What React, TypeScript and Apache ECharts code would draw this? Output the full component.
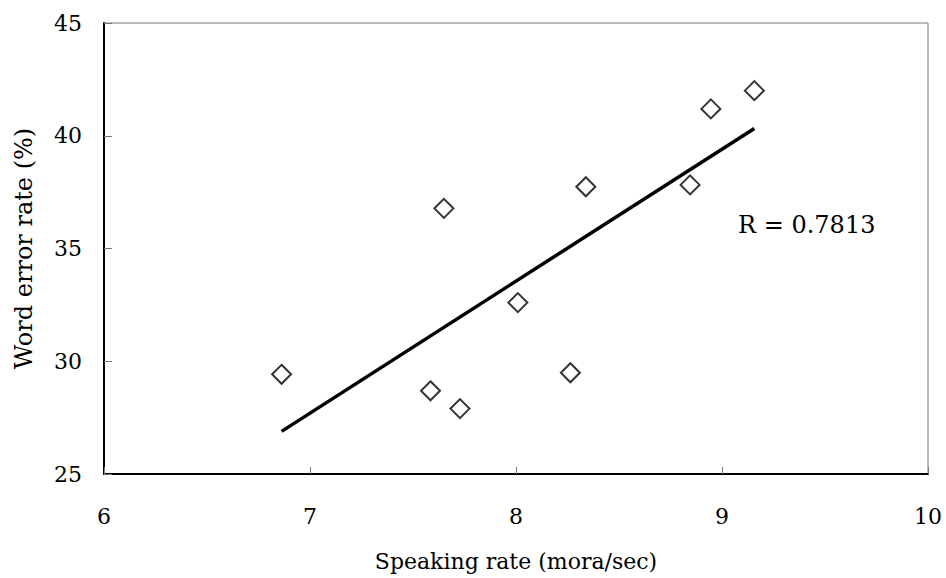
import React, { useEffect, useRef } from "react";
import * as echarts from "echarts";

const speakingRate: number[] = [6.862, 7.65, 7.585, 7.728, 8.009, 8.264, 8.339, 8.845, 8.946, 9.157];
const wordErrorRate: number[] = [29.42, 36.78, 28.69, 27.9, 32.6, 29.49, 37.74, 37.82, 41.19, 42.0];
const xTicks: number[] = [6, 7, 8, 9, 10];
const yTicks: number[] = [25, 30, 35, 40, 45];
const xTitle = "Speaking rate (mora/sec)";
const yTitle = "Word error rate (%)";
const rLabel = "R = 0.7813";

const FONT = "DejaVu Serif";

function regression(xs: number[], ys: number[]) {
  const n = xs.length;
  const mx = xs.reduce((a, b) => a + b, 0) / n;
  const my = ys.reduce((a, b) => a + b, 0) / n;
  let sxx = 0;
  let sxy = 0;
  for (let i = 0; i < n; i++) {
    sxx += (xs[i] - mx) * (xs[i] - mx);
    sxy += (xs[i] - mx) * (ys[i] - my);
  }
  const slope = sxy / sxx;
  const intercept = my - slope * mx;
  return { slope, intercept };
}

export default function App() {
  const ref = useRef<HTMLDivElement>(null);

  useEffect(() => {
    if (!ref.current) return;
    const chart = echarts.init(ref.current, undefined, { renderer: "svg" });
    const points = speakingRate.map((x, i) => [x, wordErrorRate[i]]);
    const { slope, intercept } = regression(speakingRate, wordErrorRate);
    const x0 = Math.min(...speakingRate);
    const x1 = Math.max(...speakingRate);
    const trend = [
      [x0, intercept + slope * x0],
      [x1, intercept + slope * x1],
    ];

    chart.setOption({
      animation: false,
      backgroundColor: "#ffffff",
      grid: {
        left: 104,
        right: 18,
        top: 23,
        bottom: 104,
        show: true,
        borderColor: "#777777",
        borderWidth: 1,
        backgroundColor: "transparent",
      },
      xAxis: {
        type: "value",
        min: xTicks[0],
        max: xTicks[xTicks.length - 1],
        interval: 1,
        name: xTitle,
        nameLocation: "middle",
        nameGap: 76,
        nameTextStyle: { fontFamily: FONT, fontSize: 22, color: "#000" },
        axisLine: { show: true, lineStyle: { color: "#000", width: 2 } },
        axisTick: { show: true, inside: true, length: 7, lineStyle: { color: "#777", width: 1 } },
        axisLabel: { fontFamily: FONT, fontSize: 22, color: "#000", margin: 31 },
        splitLine: { show: false },
      },
      yAxis: {
        type: "value",
        min: yTicks[0],
        max: yTicks[yTicks.length - 1],
        interval: 5,
        name: yTitle,
        nameLocation: "middle",
        nameGap: 68,
        nameTextStyle: { fontFamily: FONT, fontSize: 24, color: "#000" },
        axisLine: { show: true, lineStyle: { color: "#000", width: 2 } },
        axisTick: { show: true, inside: true, length: 8, lineStyle: { color: "#777", width: 1 } },
        axisLabel: { fontFamily: FONT, fontSize: 22, color: "#000", margin: 22 },
        splitLine: { show: false },
      },
      graphic: [
        {
          type: "text",
          left: 738,
          top: 213,
          style: {
            text: rLabel,
            fontFamily: FONT,
            fontSize: 24,
            fill: "#000",
          },
        },
      ],
      series: [
        {
          type: "line",
          data: trend,
          showSymbol: false,
          symbol: "none",
          lineStyle: { color: "#000", width: 3.5 },
          z: 2,
        },
        {
          type: "scatter",
          data: points,
          symbol: "diamond",
          symbolSize: 19,
          itemStyle: { color: "#fff", borderColor: "#000", borderWidth: 2 },
          z: 3,
        },
      ],
    });

    return () => chart.dispose();
  }, []);

  return (
    <div
      ref={ref}
      style={{ position: "fixed", left: 0, top: 0, width: 946, height: 578, background: "#fff" }}
    />
  );
}
